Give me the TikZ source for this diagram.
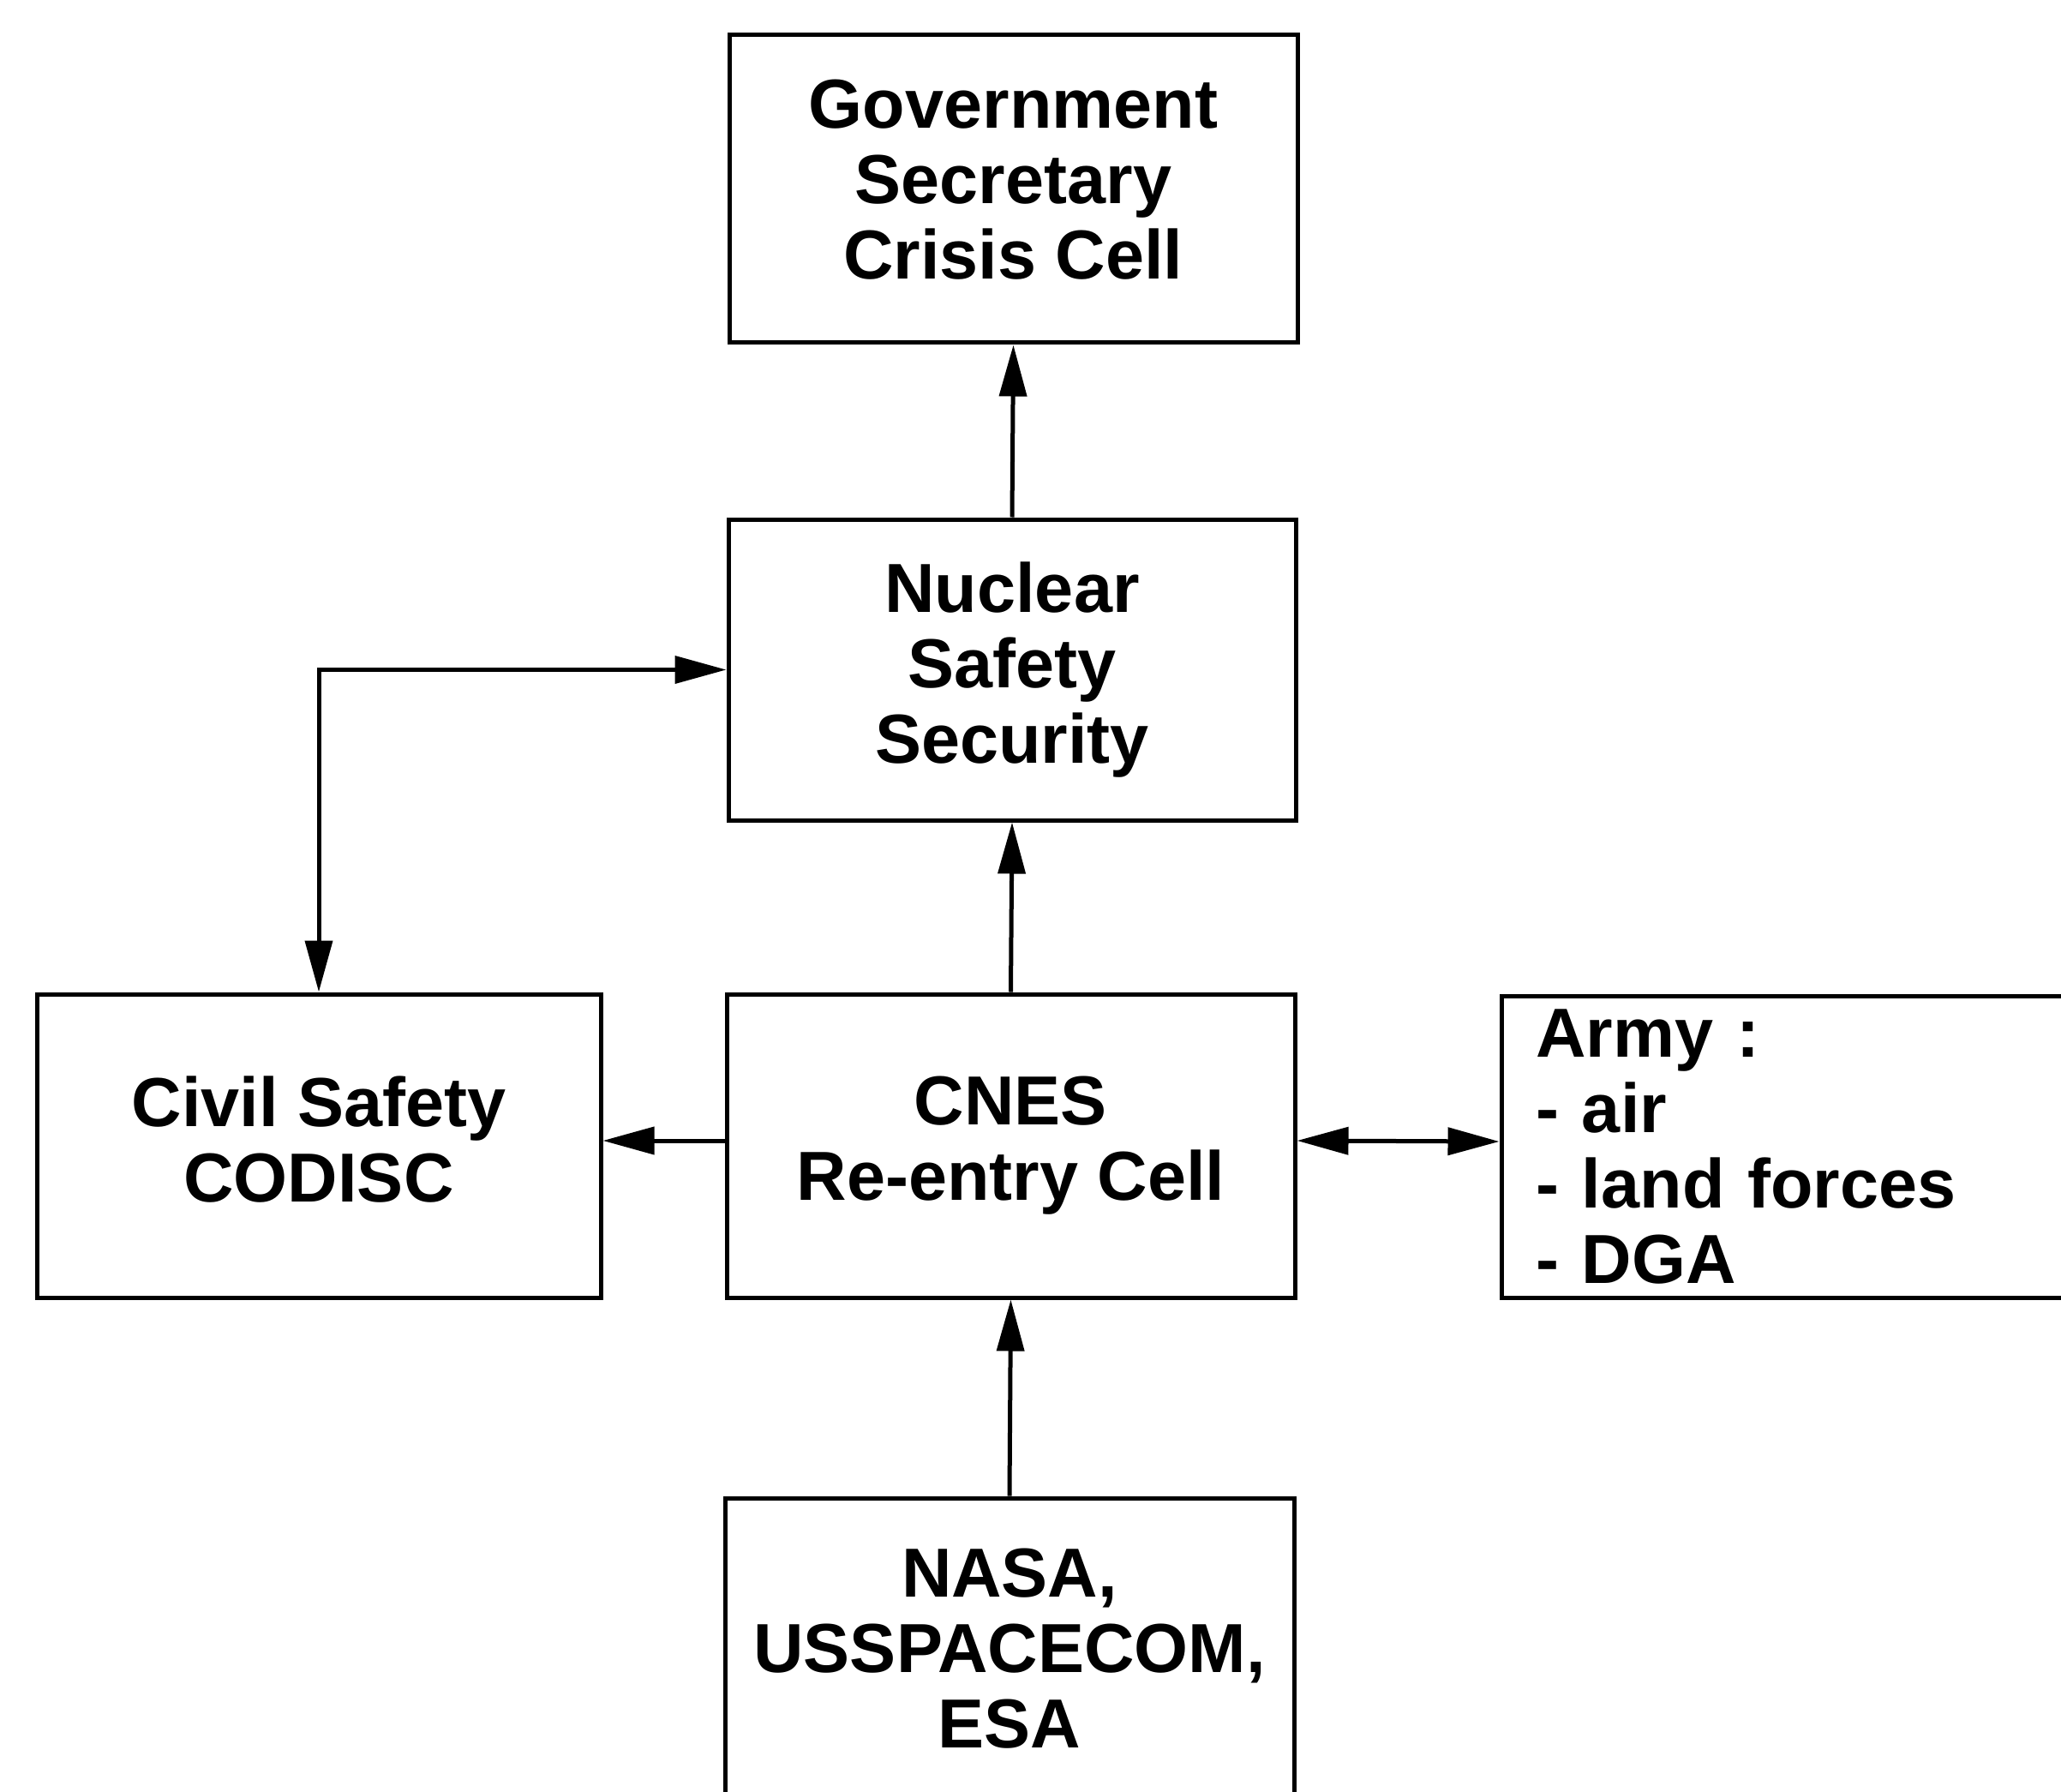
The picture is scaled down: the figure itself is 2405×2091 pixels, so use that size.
\documentclass[tikz,border=0pt]{standalone}
\usepackage{fontspec}
\setmainfont{Liberation Sans}
\usetikzlibrary{arrows.meta}
\begin{document}
\begin{tikzpicture}[x=0.3pt,y=-0.3pt,
  box/.style={draw, line width=1.5pt, inner sep=0pt, align=center,
    font=\bfseries\fontsize{24.3pt}{26.4pt}\selectfont},
  arr/.style={line width=1.5pt, -{Triangle[length=18pt,width=9.5pt]}},
  darr/.style={line width=1.5pt, {Triangle[length=18pt,width=9.5pt]}-{Triangle[length=18pt,width=9.5pt]}}]
\clip (0,0) rectangle (2405,2091);
\fill[white] (0,0) rectangle (2405,2091);
\node[box, minimum width=198.9pt, minimum height=107.7pt, text depth=6.6pt] (gov) at (1182.5,220.5) {Government\\Secretary\\Crisis Cell};
\node[box, minimum width=198.6pt, minimum height=105.3pt] (nuc) at (1181,781.5) {Nuclear\\Safety\\Security};
\node[box, minimum width=197.4pt, minimum height=106.2pt, text depth=5pt] (civ) at (372,1337) {Civil Safety\\CODISC};
\node[box, minimum width=198.9pt, minimum height=106.2pt] (cnes) at (1179.5,1337) {CNES\\Re-entry Cell};
\node[box, minimum width=200.4pt, minimum height=105.6pt, align=left, text width=176.4pt, inner xsep=12pt] (army) at (2086,1338) {Army :\\- air\\- land forces\\- DGA};
\node[box, minimum width=199.2pt, minimum height=105.6pt] (nasa) at (1178,1924) {NASA,\\USSPACECOM,\\ESA};
\draw[arr] (nuc.north) -- (gov.south);
\draw[arr] (cnes.north) -- (nuc.south);
\draw[arr] (nasa.north) -- (cnes.south);
\draw[arr] ([yshift=1.8pt]cnes.west) -- ([yshift=1.8pt]civ.east);
\draw[darr] ([yshift=1.8pt]cnes.east) -- ([yshift=1.8pt]army.west);
\draw[darr] (civ.north) |- (nuc.west);
\end{tikzpicture}
\end{document}
